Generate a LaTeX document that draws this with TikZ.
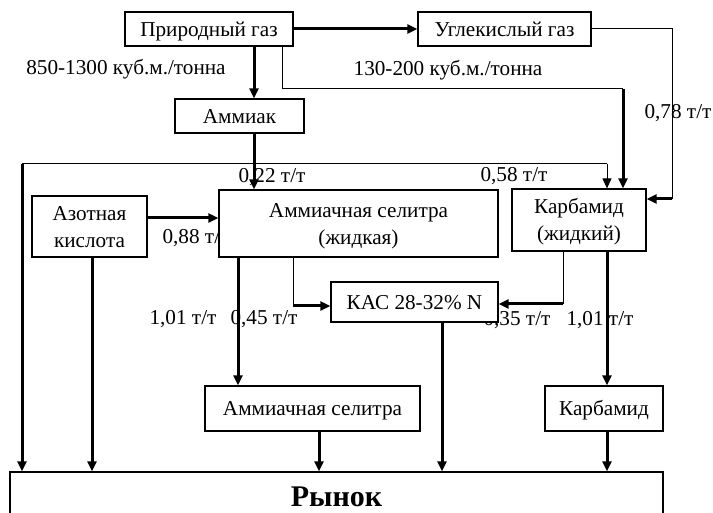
\documentclass[tikz,border=0pt]{standalone}
\usepackage{fontspec}
\setmainfont{Liberation Serif}
\usetikzlibrary{arrows.meta}

\begin{document}
\begin{tikzpicture}[
  x=0.5pt, y=-0.5pt,
  font=\fontsize{10.6}{13.5}\selectfont,
  box/.style={draw, line width=0.6pt, fill=white, align=center, inner sep=0pt, text height=8.5pt, text depth=1pt},
  tallbox/.style={box, text height=22pt, text depth=1pt},
  rate/.style={inner sep=0pt},
  link/.style={line width=0.5pt},
  arrow/.style={-{Triangle[length=5pt,width=4.5pt]}, line width=1.5pt},
  thinarrow/.style={-{Triangle[length=5pt,width=4.5pt]}, line width=0.5pt}
]
\useasboundingbox (0,0) rectangle (713,513);
% rates, drawn first so boxes and lines lie over them
\node[rate] (lgas) at (126,69) {850-1300 куб.м./тонна};
\node[rate] (lco2) at (448,70) {130-200 куб.м./тонна};
\node[rate] (l078) at (678,113) {0,78 т/т};
\node[rate] (l022) at (272,177) {0,22 т/т};
\node[rate] (l058) at (514,176) {0,58 т/т};
\node[rate] (l088) at (196,238) {0,88 т/т};
\node[rate] (l101a) at (183,319) {1,01 т/т};
\node[rate] (l045) at (264,319) {0,45 т/т};
\node[rate] (l035) at (517,320) {0,35 т/т};
\node[rate] (l101b) at (600,320) {1,01 т/т};
% boxes
\node[box, minimum width=84pt, minimum height=17pt] (natgas) at (209,29) {Природный газ};
\node[box, minimum width=86.5pt, minimum height=17pt] (co2) at (504.5,29) {Углекислый газ};
\node[box, minimum width=64.5pt, minimum height=17pt] (ammonia) at (239.5,116) {Аммиак};
\node[tallbox, minimum width=57.5pt, minimum height=30.5pt] (acid) at (89.5,226.5) {Азотная\\кислота};
\node[tallbox, minimum width=139.5pt, minimum height=33.5pt] (anliquid) at (358.5,223.5) {Аммиачная селитра\\(жидкая)};
\node[tallbox, minimum width=67pt, minimum height=31pt] (urealiquid) at (579,220) {Карбамид\\(жидкий)};
\node[box, minimum width=83.5pt, minimum height=20pt] (uan) at (414.5,302) {КАС 28-32\% N};
\node[box, minimum width=107.5pt, minimum height=22.5pt] (nitrate) at (312.5,408.5) {Аммиачная селитра};
\node[box, minimum width=59pt, minimum height=22.5pt] (urea) at (604,408.5) {Карбамид};
\node[box, minimum width=326.5pt, minimum height=26pt, text height=10pt, font=\bfseries\fontsize{15}{17}\selectfont] (market) at (336.5,498) {Рынок};
% gas and ammonia
\draw[arrow] (natgas.east) -- (co2.west);
\draw[arrow] (natgas.south -| 254,0) -- (ammonia.north -| 254,0);
\coordinate (gasbend) at (623,89);
\draw[link] (natgas.south -| 282,0) |- (gasbend);
\draw[arrow] (gasbend) -- (urealiquid.north -| gasbend);
\coordinate (co2turn) at (672,199);
\draw[link] (co2.east) -| (co2turn);
\draw[arrow] (co2turn) -- (co2turn -| urealiquid.east);
\draw[arrow] (ammonia.south -| 254,0) -- (anliquid.north -| 254,0);
\coordinate (nh3left) at (22,164);
\coordinate (nh3right) at (607,164);
\draw[link] (nh3left) -- (nh3right);
\draw[arrow] (nh3left) -- (market.north -| nh3left);
\draw[thinarrow] (nh3right) -- (urealiquid.north -| nh3right);
% liquids to products
\draw[arrow] (acid.east |- 0,218) -- (anliquid.west |- 0,218);
\draw[arrow] (acid.south -| 92,0) -- (market.north -| 92,0);
\draw[arrow] (anliquid.south -| 238,0) -- (nitrate.north -| 238,0);
\coordinate (anbend) at (293,306);
\draw[link] (anliquid.south -| anbend) -- (anbend);
\draw[arrow] (anbend) -- (uan.west |- anbend);
\coordinate (ureabend) at (563,304);
\draw[link] (urealiquid.south -| ureabend) -- (ureabend);
\draw[arrow] (ureabend) -- (uan.east |- ureabend);
\draw[arrow] (urealiquid.south -| 607,0) -- (urea.north -| 607,0);
% to market
\draw[arrow] (uan.south -| 442,0) -- (market.north -| 442,0);
\draw[arrow] (nitrate.south -| 319,0) -- (market.north -| 319,0);
\draw[arrow] (urea.south -| 607,0) -- (market.north -| 607,0);
\end{tikzpicture}
\end{document}
